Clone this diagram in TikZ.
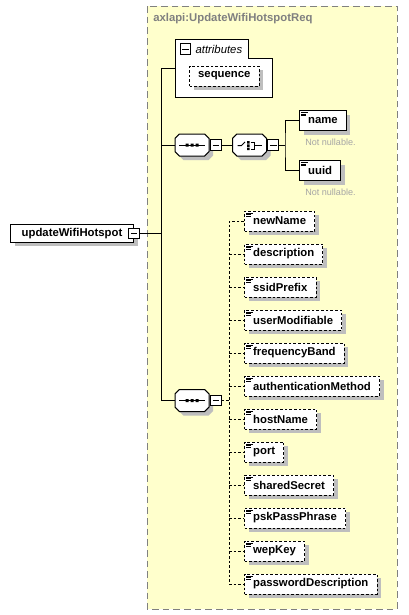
\documentclass[tikz,border=0pt]{standalone}
\usepackage{fontspec}
\setmainfont{Liberation Sans}
\usepackage{xcolor}
\usepackage{tikz}
\usetikzlibrary{shapes,arrows,positioning,calc}
\definecolor{typefill}{RGB}{255,255,204}
\definecolor{framegray}{RGB}{128,128,128}
\definecolor{shadowgray}{RGB}{190,190,190}
\definecolor{notegray}{RGB}{165,165,165}
\newcommand{\elemfont}{\fontsize{8.5}{10}\selectfont\bfseries}
\tikzstyle{frame} = [draw=framegray, fill=typefill, line width=0.75pt, dash pattern=on 5pt off 3pt]
\tikzstyle{typename} = [text=framegray, font=\elemfont, anchor=west, inner sep=0pt]
\tikzstyle{box} = [draw, rectangle, fill=white, font=\elemfont, line width=0.75pt,
    minimum height=15pt, inner xsep=6.5pt, inner ysep=0pt, anchor=west]
\tikzstyle{boxshadow} = [fill=shadowgray, draw=none, xshift=3pt, yshift=-3pt]
\tikzstyle{elem} = [box, path picture={
    \draw[solid, line width=0.6pt]
      ([shift={(1.4pt,-1.5pt)}]path picture bounding box.north west) -- ++(4.6pt,0)
      ([shift={(1.4pt,-2.7pt)}]path picture bounding box.north west) -- ++(3.8pt,0)
      ([shift={(1.4pt,-3.9pt)}]path picture bounding box.north west) -- ++(3.8pt,0);}]
\tikzstyle{optbox} = [box, dash pattern=on 2pt off 1.5pt]
\tikzstyle{optelem} = [elem, dash pattern=on 2pt off 1.5pt]
\tikzset{
  octagon/.style={rectangle, minimum width=26.5pt, minimum height=17.5pt, inner sep=0pt,
    path picture={\path[#1]
      ([shift={(0.5pt,3.8pt)}]path picture bounding box.south west) -- ([shift={(3.8pt,0.5pt)}]path picture bounding box.south west)
      -- ([shift={(-3.8pt,0.5pt)}]path picture bounding box.south east) -- ([shift={(-0.5pt,3.8pt)}]path picture bounding box.south east)
      -- ([shift={(-0.5pt,-3.8pt)}]path picture bounding box.north east) -- ([shift={(-3.8pt,-0.5pt)}]path picture bounding box.north east)
      -- ([shift={(3.8pt,-0.5pt)}]path picture bounding box.north west) -- ([shift={(0.5pt,-3.8pt)}]path picture bounding box.north west)
      -- cycle;}},
  compositor/.style={octagon={draw, fill=white, line width=0.75pt}},
  compshadow/.style={octagon={fill=shadowgray}, xshift=3pt, yshift=-3pt}
}
\tikzstyle{toggle} = [draw, fill=white, line width=0.75pt, minimum size=8pt, inner sep=0pt,
    path picture={\draw ([xshift=1.6pt]path picture bounding box.west) -- ([xshift=-1.6pt]path picture bounding box.east);}]
\tikzstyle{attrlabel} = [font=\fontsize{8.5}{10}\selectfont\itshape, inner sep=0pt]
\tikzstyle{note} = [text=notegray, font=\fontsize{6.8}{8}\selectfont, anchor=west, inner sep=0pt]
\tikzstyle{link} = [line width=0.75pt]
\tikzstyle{optlink} = [link, dash pattern=on 2pt off 1.5pt]

\begin{document}
\begin{tikzpicture}[x=0.75pt,y=-0.75pt]
	\useasboundingbox (0,0) rectangle (408,615);
	% complex type
	\draw[frame] (147,6) rectangle (397,609);
	\node[typename] (typename) at (153,19) {axlapi:UpdateWifiHotspotReq};

	% attributes
	\draw[link, fill=white] (175,39) -- (248,39) -- (248,58) -- (272,58) -- (272,97) -- (175,97) -- cycle;
	\coordinate (attrs) at (175,68);
	\node[toggle] (attrtoggle) at (185.5,49) {};
	\node[attrlabel, anchor=west, right=3pt of attrtoggle] (attrtitle) {attributes};
	\node[optbox, boxshadow] at (189,76) {\phantom{sequence}};
	\node[optbox] (sequence) at (189,76) {sequence};

	% root element
	\node[box, boxshadow, minimum width=92.25pt, minimum height=13pt] at (10,233.5) {\phantom{updateWifiHotspot}};
	\node[box, minimum width=92.25pt, minimum height=13pt] (root) at (10,233.5) {updateWifiHotspot};
	\node[toggle] (roottoggle) at (root.east) {};
	\coordinate (trunktop) at (161,68);
	\coordinate (trunkbot) at (161,400.5);

	% key group
	\node[compshadow] at (192,145) {};
	\node[compositor] (seqA) at (192,145) {};
	\node[toggle, right=0pt of seqA] (seqAtoggle) {};
	\node[compshadow, right=7.5pt of seqAtoggle] {};
	\node[compositor, right=7.5pt of seqAtoggle] (choice) {};
	\node[toggle, right=0pt of choice] (choicetoggle) {};
	\coordinate (fork) at (285,145);
	\node[elem, boxshadow] at (299,120.5) {\phantom{name}};
	\node[elem] (name) at (299,120.5) {name};
	\node[note] (namenote) at (305,142.5) {Not nullable.};
	\node[elem, boxshadow] at (299,170.5) {\phantom{uuid}};
	\node[elem] (uuid) at (299,170.5) {uuid};
	\node[note] (uuidnote) at (305,192) {Not nullable.};

	% optional fields
	\node[compshadow] at (192,400.5) {};
	\node[compositor] (seqB) at (192,400.5) {};
	\node[toggle, right=0pt of seqB] (seqBtoggle) {};
	\coordinate (rail) at (229,400.5);
	\foreach \y/\lbl in {221/newName,254/description,287/ssidPrefix,320/userModifiable,353/frequencyBand,
	    386/authenticationMethod,419/hostName,452/port,485/sharedSecret,518/pskPassPhrase,551/wepKey,584/passwordDescription} {
		\node[box, boxshadow] at (244,\y) {\phantom{\lbl}};
		\node[optelem] (\lbl) at (244,\y) {\lbl};
	}

	% compositor symbols
	\draw[link] ($(seqA)+(-13,0)$) -- ($(seqA)+(13,0)$);
	\fill ($(seqA)+(-6.5,-1.5)$) rectangle ++(3,3) ($(seqA)+(-1.5,-1.5)$) rectangle ++(3,3) ($(seqA)+(3.5,-1.5)$) rectangle ++(3,3);
	\draw[link] ($(seqB)+(-13,0)$) -- ($(seqB)+(13,0)$);
	\fill ($(seqB)+(-6.5,-1.5)$) rectangle ++(3,3) ($(seqB)+(-1.5,-1.5)$) rectangle ++(3,3) ($(seqB)+(3.5,-1.5)$) rectangle ++(3,3);
	\draw[link] ($(choice)+(-12,0.5)$) -- ($(choice)+(-8,0.5)$) -- ($(choice)+(-4.5,-3)$);
	\fill ($(choice)+(-2.5,-4)$) rectangle ++(2.5,2.5) ($(choice)+(-2.5,-0.7)$) rectangle ++(2.5,2.5) ($(choice)+(-2.5,2.6)$) rectangle ++(2.5,2.5);
	\draw[link] ($(choice)+(1,-3)$) -- ($(choice)+(4.5,-3)$) -- ($(choice)+(4.5,4)$) -- ($(choice)+(1,4)$)
	    ($(choice)+(4.5,0.5)$) -- ($(choice)+(12,0.5)$);

	% connectors
	\draw[link] (roottoggle) -- (roottoggle -| trunktop);
	\draw[link] (attrs) -- (trunktop) -- (trunkbot) -- ([xshift=0.4pt]seqB.west);
	\draw[link] ([xshift=0.4pt]seqA.west) -- (seqA -| trunktop);
	\draw[link] (seqAtoggle.east) -- ([xshift=0.4pt]choice.west);
	\draw[link] (choicetoggle.east) -- (fork);
	\draw[link] (name.west) -| (fork) |- (uuid.west);
	\draw[optlink] (seqBtoggle.east) -- (rail);
	\draw[optlink] (newName.west) -| (rail) |- (passwordDescription.west);
	\draw[optlink] (rail |- description.west) -- (description.west);
	\draw[optlink] (rail |- ssidPrefix.west) -- (ssidPrefix.west);
	\draw[optlink] (rail |- userModifiable.west) -- (userModifiable.west);
	\draw[optlink] (rail |- frequencyBand.west) -- (frequencyBand.west);
	\draw[optlink] (rail |- authenticationMethod.west) -- (authenticationMethod.west);
	\draw[optlink] (rail |- hostName.west) -- (hostName.west);
	\draw[optlink] (rail |- port.west) -- (port.west);
	\draw[optlink] (rail |- sharedSecret.west) -- (sharedSecret.west);
	\draw[optlink] (rail |- pskPassPhrase.west) -- (pskPassPhrase.west);
	\draw[optlink] (rail |- wepKey.west) -- (wepKey.west);
\end{tikzpicture}
\end{document}
